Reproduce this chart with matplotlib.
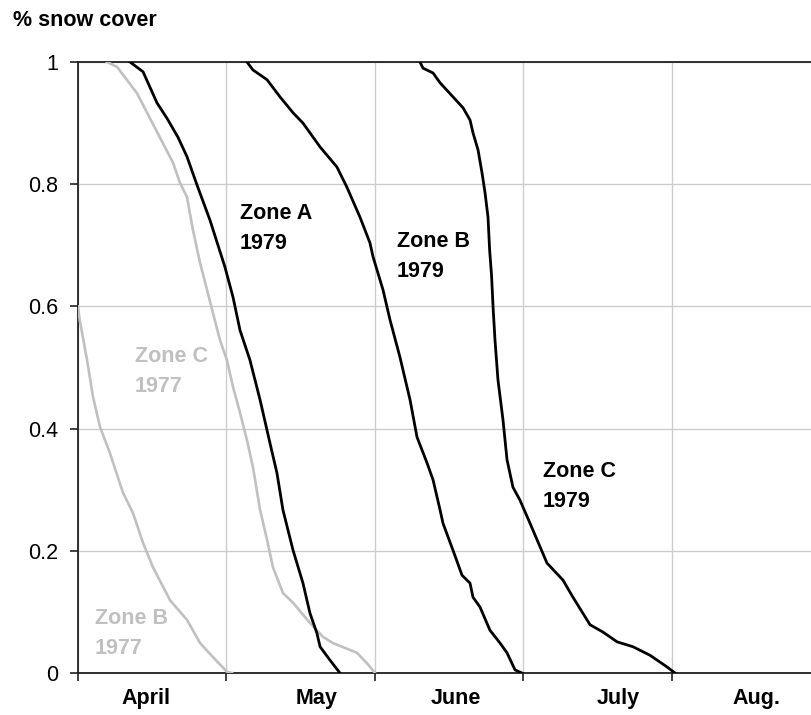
import numpy as np
import matplotlib
matplotlib.use('Agg')
import matplotlib.pyplot as plt

plt.rcParams['font.family'] = ['Liberation Sans', 'DejaVu Sans']

# x in months since April 1 (1 = May 1, 2 = June 1, ...), y = fraction of snow cover
zone_a_1979_x = [0.350, 0.438, 0.532, 0.599, 0.673, 0.734, 0.801, 0.889, 0.990, 1.044,
                 1.091, 1.158, 1.226, 1.293, 1.340, 1.380, 1.448, 1.515, 1.562, 1.609,
                 1.630, 1.697, 1.764]
zone_a_1979_y = [1.000, 0.984, 0.933, 0.908, 0.877, 0.845, 0.799, 0.741, 0.664, 0.615,
                 0.561, 0.512, 0.447, 0.376, 0.327, 0.267, 0.201, 0.147, 0.098, 0.065,
                 0.043, 0.021, 0.000]

zone_b_1979_x = [1.138, 1.178, 1.273, 1.360, 1.448, 1.515, 1.630, 1.744, 1.811, 1.899,
                 1.966, 1.987, 2.054, 2.101, 2.168, 2.236, 2.283, 2.350, 2.391, 2.438,
                 2.458, 2.525, 2.586, 2.640, 2.660, 2.707, 2.774, 2.842, 2.889, 2.943,
                 2.990]
zone_b_1979_y = [1.000, 0.987, 0.971, 0.943, 0.917, 0.900, 0.861, 0.828, 0.795, 0.746,
                 0.704, 0.681, 0.627, 0.578, 0.517, 0.447, 0.386, 0.344, 0.316, 0.267,
                 0.245, 0.201, 0.160, 0.147, 0.124, 0.108, 0.070, 0.049, 0.033, 0.005,
                 0.000]

zone_c_1979_x = [2.303, 2.323, 2.391, 2.438, 2.525, 2.593, 2.640, 2.660, 2.694, 2.721,
                 2.741, 2.761, 2.772, 2.785, 2.795, 2.808, 2.828, 2.862, 2.889, 2.929,
                 2.976, 3.044, 3.158, 3.266, 3.333, 3.448, 3.535, 3.630, 3.737, 3.852,
                 3.966, 4.020]
zone_c_1979_y = [1.000, 0.990, 0.982, 0.966, 0.943, 0.925, 0.905, 0.884, 0.856, 0.818,
                 0.786, 0.746, 0.692, 0.650, 0.599, 0.545, 0.480, 0.414, 0.349, 0.304,
                 0.283, 0.245, 0.180, 0.152, 0.124, 0.079, 0.067, 0.051, 0.043, 0.029,
                 0.010, 0.000]

zone_b_1977_x = [0.000, 0.010, 0.061, 0.101, 0.148, 0.215, 0.303, 0.370, 0.438, 0.505,
                 0.620, 0.734, 0.822, 0.909, 1.003, 1.037]
zone_b_1977_y = [0.600, 0.580, 0.512, 0.452, 0.403, 0.360, 0.295, 0.262, 0.213, 0.173,
                 0.119, 0.087, 0.049, 0.026, 0.002, 0.000]

zone_c_1977_x = [0.195, 0.263, 0.397, 0.465, 0.572, 0.640, 0.687, 0.734, 0.774, 0.822,
                 0.869, 0.909, 0.956, 1.003, 1.044, 1.091, 1.138, 1.178, 1.226, 1.273,
                 1.313, 1.380, 1.448, 1.562, 1.650, 1.717, 1.879, 1.946, 2.000]
zone_c_1977_y = [1.000, 0.992, 0.949, 0.917, 0.867, 0.835, 0.802, 0.779, 0.725, 0.671,
                 0.627, 0.589, 0.545, 0.512, 0.468, 0.426, 0.381, 0.337, 0.267, 0.218,
                 0.173, 0.131, 0.115, 0.082, 0.059, 0.049, 0.033, 0.016, 0.000]

months = ['April', 'May', 'June', 'July', 'Aug.']
month_label_pos = [0.458, 1.609, 2.545, 3.636, 4.572]
y_ticks = [0, 0.2, 0.4, 0.6, 0.8, 1]
y_tick_labels = ['0', '0.2', '0.4', '0.6', '0.8', '1']

grey = '#c0c0c0'
fs = 15.5

fig = plt.figure(figsize=(8.12, 7.15), dpi=100)
ax = fig.add_axes([78 / 812, 42 / 715, 734 / 812, 611 / 715])

ax.plot(zone_b_1977_x, zone_b_1977_y, color=grey, lw=1.9, zorder=3)
ax.plot(zone_c_1977_x, zone_c_1977_y, color=grey, lw=1.9, zorder=3)
ax.plot(zone_a_1979_x, zone_a_1979_y, color='black', lw=2.0, zorder=4)
ax.plot(zone_b_1979_x, zone_b_1979_y, color='black', lw=2.0, zorder=4)
ax.plot(zone_c_1979_x, zone_c_1979_y, color='black', lw=2.0, zorder=4)

ax.set_xlim(0, 734 / 148.5)
ax.set_ylim(0, 1)

# grid
ax.set_xticks([0, 1, 2, 3, 4])
ax.set_xticklabels([])
ax.set_yticks(y_ticks)
ax.set_yticklabels(y_tick_labels, fontsize=fs)
ax.grid(True, color='#cccccc', lw=1.0, zorder=0)
ax.set_axisbelow(True)
ax.tick_params(axis='x', which='major', direction='out', length=6, width=1.2, color='#202020')
ax.tick_params(axis='y', direction='out', length=6, width=1.2, color='#202020', pad=8)

ax.set_xticks(month_label_pos, minor=True)
ax.set_xticklabels(months, minor=True, fontsize=fs, fontweight='bold')
ax.tick_params(axis='x', which='minor', length=0, pad=11)

for s in ['left', 'bottom', 'top']:
    ax.spines[s].set_color('#202020')
    ax.spines[s].set_linewidth(1.3)
ax.spines['right'].set_visible(False)

# curve labels
ax.text(1.091, 0.769, 'Zone A\n1979', fontsize=fs, fontweight='bold', color='black',
        va='top', ha='left', linespacing=1.55)
ax.text(2.148, 0.723, 'Zone B\n1979', fontsize=fs, fontweight='bold', color='black',
        va='top', ha='left', linespacing=1.55)
ax.text(3.131, 0.347, 'Zone C\n1979', fontsize=fs, fontweight='bold', color='black',
        va='top', ha='left', linespacing=1.55)
ax.text(0.384, 0.535, 'Zone C\n1977', fontsize=fs, fontweight='bold', color=grey,
        va='top', ha='left', linespacing=1.55)
ax.text(0.114, 0.106, 'Zone B\n1977', fontsize=fs, fontweight='bold', color=grey,
        va='top', ha='left', linespacing=1.55)

fig.text(13 / 812, 1 - 20 / 715, '% snow cover', fontsize=fs, fontweight='bold',
         va='center', ha='left')

fig.savefig('out.png', dpi=100)
